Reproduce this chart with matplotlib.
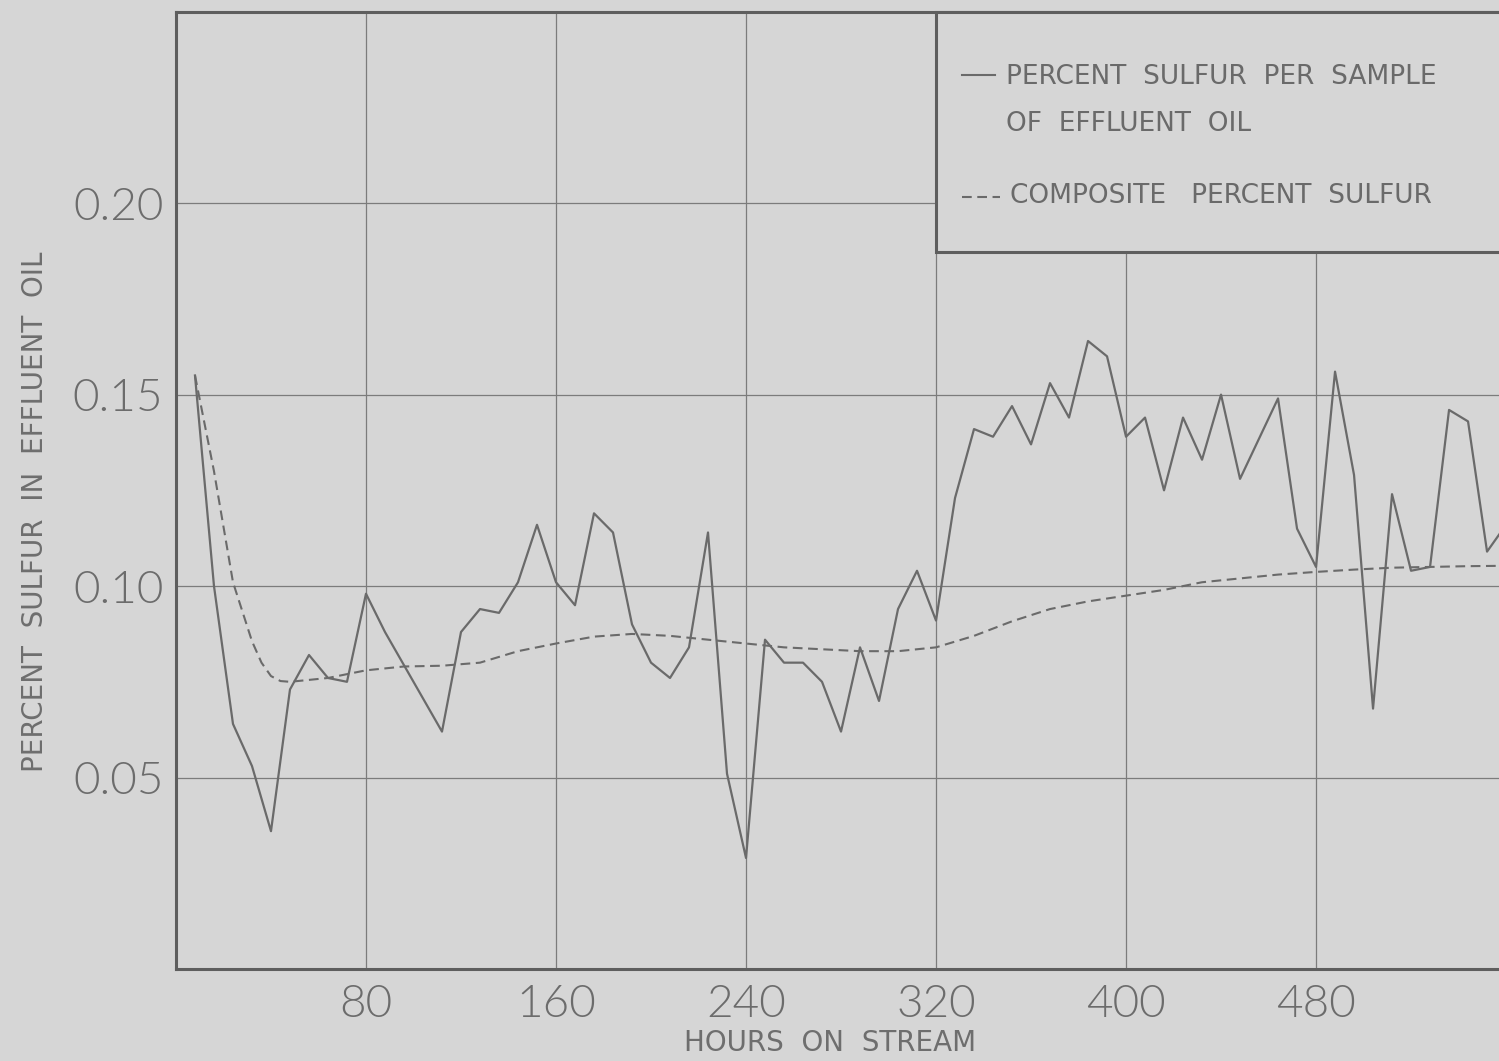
import numpy as np
import matplotlib
matplotlib.use("Agg")
import matplotlib.pyplot as plt
from matplotlib.patches import Rectangle

# sulfur content of each 8-hour sample of effluent oil
hours = [8, 16, 24, 32, 40, 48, 56, 64, 72, 80, 88, 112, 120, 128, 136, 144,
         152, 160, 168, 176, 184, 192, 200, 208, 216, 224, 232, 240, 248, 256,
         264, 272, 280, 288, 296, 304, 312, 320, 328, 336, 344, 352, 360, 368,
         376, 384, 392, 400, 408, 416, 424, 432, 440, 448, 464, 472, 480, 488,
         496, 504, 512, 520, 528, 536, 544, 552, 560]
sulfur = [0.155, 0.100, 0.064, 0.053, 0.036, 0.073, 0.082, 0.076, 0.075, 0.098,
          0.088, 0.062, 0.088, 0.094, 0.093, 0.101, 0.116, 0.101, 0.095, 0.119,
          0.114, 0.090, 0.080, 0.076, 0.084, 0.114, 0.051, 0.029, 0.086, 0.080,
          0.080, 0.075, 0.062, 0.084, 0.070, 0.094, 0.104, 0.091, 0.123, 0.141,
          0.139, 0.147, 0.137, 0.153, 0.144, 0.164, 0.160, 0.139, 0.144, 0.125,
          0.144, 0.133, 0.150, 0.128, 0.149, 0.115, 0.105, 0.156, 0.129, 0.068,
          0.124, 0.104, 0.105, 0.146, 0.143, 0.109, 0.116]

# running composite
comp_hours = [8, 16, 24, 32, 36, 40, 44, 48, 64, 80, 96, 112, 128, 144, 160,
              176, 192, 208, 224, 240, 256, 272, 288, 304, 320, 336, 352, 368,
              384, 400, 416, 432, 448, 464, 480, 496, 512, 528, 544, 560]
comp_sulfur = [0.155, 0.130, 0.101, 0.0856, 0.080, 0.0765, 0.0752, 0.0750,
               0.0760, 0.0780, 0.0790, 0.0792, 0.0800, 0.0830, 0.0850, 0.0868,
               0.0875, 0.0870, 0.0860, 0.0850, 0.0840, 0.0835, 0.0830, 0.0830,
               0.0840, 0.0870, 0.0908, 0.0940, 0.0960, 0.0975, 0.0990, 0.1010,
               0.1020, 0.1030, 0.1037, 0.1043, 0.1048, 0.1050, 0.1052, 0.1053]

xticks = [80, 160, 240, 320, 400, 480]
yticks = [0.05, 0.10, 0.15, 0.20]

bg = "#d6d6d6"
ink = "#6a6a6a"
plt.rcParams["lines.scale_dashes"] = False

fig = plt.figure(figsize=(14.99, 10.61), dpi=100, facecolor=bg)
ax = fig.add_axes([0.1174, 0.0867, 0.8873, 0.9023], facecolor=bg)

ax.plot(hours, sulfur, color=ink, lw=1.6, zorder=3)
ax.plot(comp_hours, comp_sulfur, color=ink, lw=1.5, dashes=(7, 4), zorder=3)

ax.set_xlim(0, 560)
ax.set_ylim(0, 0.25)
ax.set_xticks(xticks)
ax.set_yticks(yticks)
ax.set_xticklabels([str(t) for t in xticks])
ax.set_yticklabels([f"{t:.2f}" for t in yticks])
ax.grid(True, color="#7c7c7c", lw=0.9)
ax.set_axisbelow(True)
ax.tick_params(length=0, colors="#6c6c6c", labelsize=33)
ax.tick_params(axis="y", pad=9)
ax.tick_params(axis="x", pad=11)
for lab in ax.get_xticklabels() + ax.get_yticklabels():
    lab.set_fontfamily(["Lato", "DejaVu Sans"])
    lab.set_fontweight(300)
for side in ["left", "bottom", "top"]:
    ax.spines[side].set_color("#5e5e5e")
    ax.spines[side].set_linewidth(2.2)
ax.spines["right"].set_visible(False)

W, H = 1499, 1061
fig.text(830 / W, 1 - 1043 / H, "HOURS  ON  STREAM", ha="center",
         va="center", fontsize=20, color="#6e6e6e")
fig.text(35 / W, 1 - 512 / H, "PERCENT  SULFUR  IN  EFFLUENT  OIL",
         rotation=90, ha="center", va="center", fontsize=20, color="#6e6e6e")

# key box in the upper right corner
ax.add_patch(Rectangle((320, 0.1873), 260, 0.25 - 0.1873, facecolor=bg,
                       edgecolor="#5e5e5e", lw=2.2, zorder=5, clip_on=False))
tr = fig.transFigure
fig.add_artist(plt.Line2D([962 / W, 995 / W], [1 - 75 / H, 1 - 75 / H],
                          color=ink, lw=1.5, transform=tr, zorder=6))
fig.add_artist(plt.Line2D([962 / W, 1000 / W], [1 - 197 / H, 1 - 197 / H],
                          color=ink, lw=1.5, dashes=(7, 4), transform=tr,
                          zorder=6))
key_kw = dict(ha="left", va="center", fontsize=19, color="#6a6a6a", zorder=6)
fig.text(1006 / W, 1 - 77 / H, "PERCENT  SULFUR  PER  SAMPLE", **key_kw)
fig.text(1006 / W, 1 - 124 / H, "OF  EFFLUENT  OIL", **key_kw)
fig.text(1010 / W, 1 - 196 / H, "COMPOSITE   PERCENT  SULFUR", **key_kw)

fig.savefig("out.png", dpi=100, facecolor=bg)
